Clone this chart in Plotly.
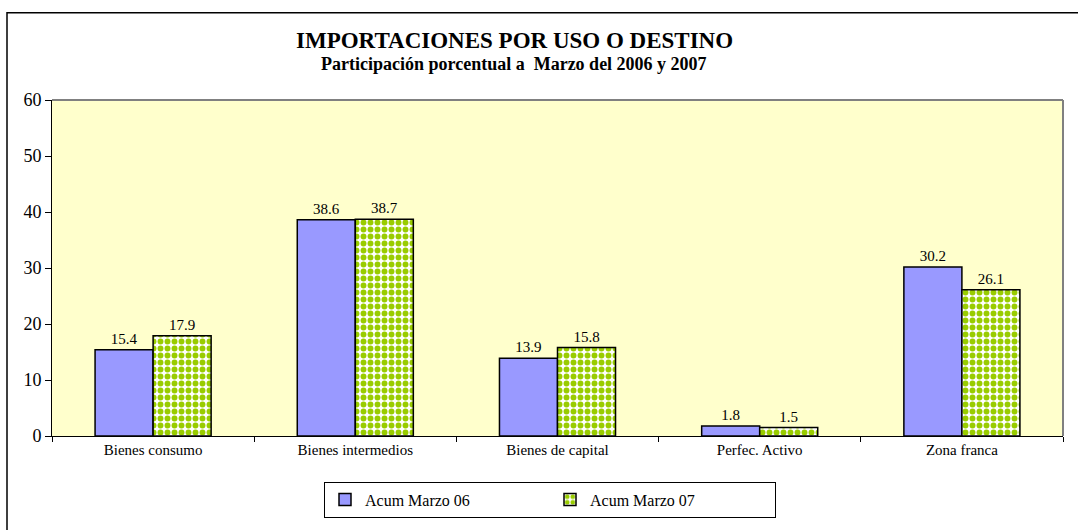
import plotly.graph_objects as go

categories = ["Bienes consumo", "Bienes intermedios", "Bienes de capital", "Perfec. Activo", "Zona franca"]
series_names = ["Acum Marzo 06", "Acum Marzo 07"]
values_06 = [15.4, 38.6, 13.9, 1.8, 30.2]
values_07 = [17.9, 38.7, 15.8, 1.5, 26.1]
y_ticks = [0, 10, 20, 30, 40, 50, 60]

FONT = "Liberation Serif, Times New Roman, serif"
W, H = 1078, 530
L, R, T, B = 52, 15, 100, 91
pw, ph = W - L - R, H - T - B

def px_x(p):
    return (p - L) / pw

def px_y(p):
    return (H - B - p) / ph

fig = go.Figure()
fig.add_trace(go.Bar(
    x=categories, y=values_06, name=series_names[0],
    marker=dict(color="#9999FF", line=dict(color="black", width=1.5)),
    text=[f"{v:.1f}" for v in values_06], textposition="outside",
    textfont=dict(family=FONT, size=15, color="black"), cliponaxis=False,
))
fig.add_trace(go.Bar(
    x=categories, y=values_07, name=series_names[1],
    marker=dict(color="#99CC00", line=dict(color="black", width=1.5),
                pattern=dict(shape=".", fgcolor="#99CC00", bgcolor="white",
                             size=7, solidity=0.55, fillmode="replace")),
    text=[f"{v:.1f}" for v in values_07], textposition="outside",
    textfont=dict(family=FONT, size=15, color="black"), cliponaxis=False,
))

fig.update_layout(
    width=W, height=H,
    margin=dict(l=L, r=R, t=T, b=B),
    paper_bgcolor="white", plot_bgcolor="#FFFFCC",
    barmode="group", bargap=0.426, bargroupgap=0,
    font=dict(family=FONT, color="black"),
    showlegend=True,
    legend=dict(orientation="h", x=px_x(550), xanchor="center",
                y=px_y(485), yanchor="top",
                bordercolor="black", borderwidth=1, bgcolor="white",
                font=dict(family=FONT, size=16, color="black"),
                itemwidth=30, entrywidth=180, traceorder="normal"),
    xaxis=dict(showline=True, linecolor="black", linewidth=1,
               ticks="outside", tickson="boundaries", ticklen=5, tickcolor="black",
               tickfont=dict(family=FONT, size=15, color="black"),
               showgrid=False, fixedrange=True),
    yaxis=dict(range=[0, 60], tickvals=y_ticks, showline=True, linecolor="black",
               linewidth=1, ticks="outside", ticklen=6, tickcolor="black",
               tickfont=dict(family=FONT, size=18, color="black"),
               showgrid=False, zeroline=False, fixedrange=True),
)

# title and subtitle
fig.add_annotation(text="<b>IMPORTACIONES POR USO O DESTINO</b>", xref="paper", yref="paper",
                   x=px_x(514), y=px_y(40), xanchor="center", yanchor="middle",
                   showarrow=False, font=dict(family=FONT, size=23, color="black"))
fig.add_annotation(text="<b>Participación porcentual a  Marzo del 2006 y 2007</b>", xref="paper", yref="paper",
                   x=px_x(514), y=px_y(64), xanchor="center", yanchor="middle",
                   showarrow=False, font=dict(family=FONT, size=18, color="black"))

# outer chart border
fig.add_shape(type="rect", xref="paper", yref="paper",
              x0=px_x(7), x1=px_x(1100), y0=px_y(12), y1=px_y(560),
              line=dict(color="black", width=1.5), layer="below")
# gray top/right plot edges
fig.add_shape(type="line", xref="paper", yref="paper", x0=0, x1=1, y0=1, y1=1,
              line=dict(color="#808080", width=2))
fig.add_shape(type="line", xref="paper", yref="paper", x0=1, x1=1, y0=0, y1=1,
              line=dict(color="#808080", width=2))

fig.write_html("out.html", config={"displayModeBar": False},
               post_script="document.body.style.margin='0';document.body.style.overflow='hidden';")
